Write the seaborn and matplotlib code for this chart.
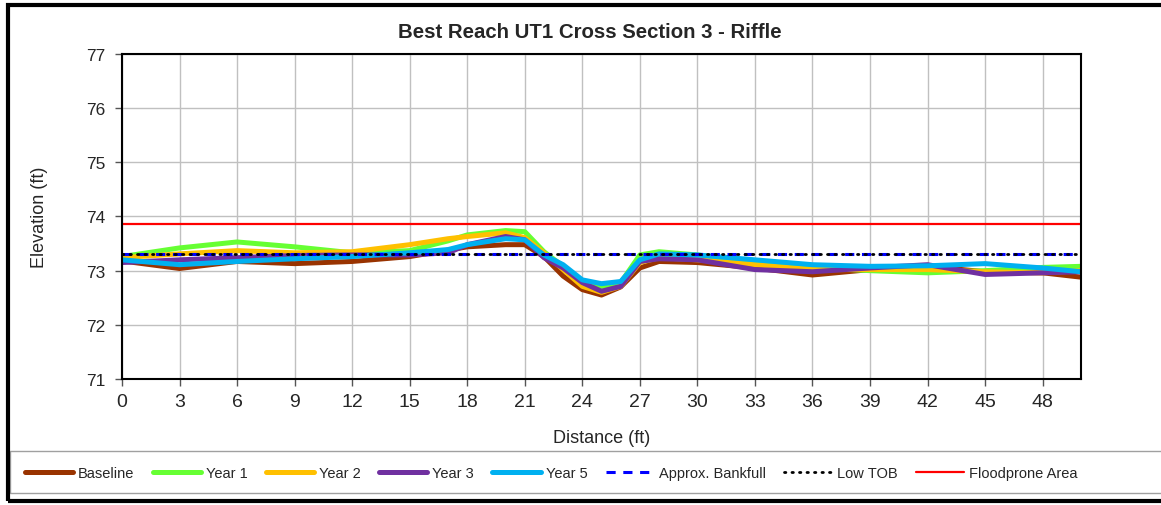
import numpy as np
import pandas as pd
import seaborn as sns
import matplotlib.pyplot as plt
from matplotlib.lines import Line2D
from matplotlib.patches import Rectangle

# station (ft) along the cross section
distance = [0, 3, 6, 9, 12, 15, 17, 18, 20, 21, 22, 23, 24, 25, 26, 27, 28, 30, 33, 36, 39, 42, 45, 48, 50]

baseline = [73.18, 73.04, 73.17, 73.13, 73.17, 73.26, 73.38, 73.44, 73.48, 73.48, 73.26, 72.90, 72.65, 72.55, 72.70,
            73.05, 73.17, 73.15, 73.05, 72.92, 73.02, 73.08, 72.98, 72.96, 72.88]
year1 = [73.26, 73.42, 73.53, 73.44, 73.33, 73.37, 73.55, 73.66, 73.74, 73.72, 73.35, 73.08, 72.75, 72.69, 72.78,
         73.29, 73.35, 73.29, 73.15, 73.06, 73.00, 72.96, 73.00, 73.06, 73.08]
year2 = [73.24, 73.31, 73.37, 73.33, 73.35, 73.48, 73.59, 73.63, 73.70, 73.61, 73.33, 73.02, 72.71, 72.60, 72.71,
         73.15, 73.24, 73.20, 73.11, 73.02, 73.02, 73.02, 72.98, 72.96, 73.00]
year3 = [73.15, 73.20, 73.24, 73.28, 73.29, 73.29, 73.33, 73.48, 73.63, 73.57, 73.24, 73.05, 72.78, 72.62, 72.71,
         73.17, 73.22, 73.20, 73.02, 72.98, 73.05, 73.11, 72.93, 72.96, 72.98]
year5 = [73.20, 73.11, 73.17, 73.22, 73.26, 73.33, 73.39, 73.48, 73.59, 73.57, 73.29, 73.11, 72.83, 72.76, 72.80,
         73.20, 73.31, 73.29, 73.20, 73.11, 73.08, 73.09, 73.13, 73.05, 72.98]

bankfull = 73.31
low_tob = 73.31
floodprone = 73.86

series_names = ['Baseline', 'Year 1', 'Year 2', 'Year 3', 'Year 5']
series_vals = [baseline, year1, year2, year3, year5]
series_colors = ['#993300', '#66FF33', '#FFC000', '#7030A0', '#00B0F0']

df = pd.DataFrame({
    'Distance': distance * len(series_names),
    'Elevation': sum(series_vals, []),
    'Survey': [n for n in series_names for _ in distance],
})

sns.set_style('white')
plt.rcParams['font.family'] = ['Liberation Sans', 'DejaVu Sans']

W, H = 1161, 506
fig = plt.figure(figsize=(W / 100, H / 100), dpi=100)
ax = fig.add_axes([122 / W, 1 - 380 / H, (1081 - 122) / W, (380 - 55) / H])

sns.lineplot(data=df, x='Distance', y='Elevation', hue='Survey', hue_order=series_names,
             palette=series_colors, linewidth=3.6, ax=ax, legend=False, sort=False)
for ln in ax.lines:
    ln.set_solid_joinstyle('round')
    ln.set_solid_capstyle('round')

bf_style = dict(color='#0000FF', lw=2.2, ls=(0, (3, 2.5)))
tob_style = dict(color='black', lw=2, ls=(0, (0.5, 2.2)), dash_capstyle='round')
fp_style = dict(color='#FF0000', lw=1.6)
ax.axhline(bankfull, **bf_style)
ax.axhline(low_tob, **tob_style)
ax.axhline(floodprone, **fp_style)

ax.set_xlim(0, 50)
ax.set_ylim(71, 77)
ax.set_xticks(np.arange(0, 49, 3))
ax.set_yticks(np.arange(71, 78, 1))
ax.tick_params(axis='both', length=5, width=1, color='#555555', direction='out', left=True, bottom=True)
ax.tick_params(axis='x', labelsize=14, pad=5)
ax.tick_params(axis='y', labelsize=12.5, pad=7)
ax.grid(True, color='#c0c0c0', lw=1)
ax.set_axisbelow(True)
for s in ax.spines.values():
    s.set_visible(True)
    s.set_color('black')
    s.set_linewidth(1.5)

ax.set_xlabel('Distance (ft)', fontsize=13, labelpad=14)
ax.set_ylabel('Elevation (ft)', fontsize=13, labelpad=27)
ax.set_title('Best Reach UT1 Cross Section 3 - Riffle', fontsize=14.7, fontweight='bold', pad=12,
             x=(590 - 122) / (1081 - 122))

# legend along the bottom
handles = [Line2D([], [], color=c, lw=3.6) for c in series_colors]
handles += [Line2D([], [], **bf_style), Line2D([], [], **tob_style), Line2D([], [], **fp_style)]
labels = series_names + ['Approx. Bankfull', 'Low TOB', 'Floodprone Area']
fig.legend(handles, labels, loc='center left', ncol=8, bbox_to_anchor=(25 / W, 1 - 474 / H),
           fontsize=10.5, frameon=False, handlelength=3.3, handletextpad=0.35,
           borderpad=0, borderaxespad=0, columnspacing=1.25)

# legend box and chart border
fig.add_artist(Rectangle((10 / W, 1 - 494 / H), 1.2, 42 / H, transform=fig.transFigure,
                         fill=False, edgecolor='#a0a0a0', lw=1))
fig.add_artist(Rectangle((8 / W, 1 - 502 / H), 1.2, 496 / H, transform=fig.transFigure,
                         fill=False, edgecolor='black', lw=3))

fig.savefig('out.png', dpi=100)
